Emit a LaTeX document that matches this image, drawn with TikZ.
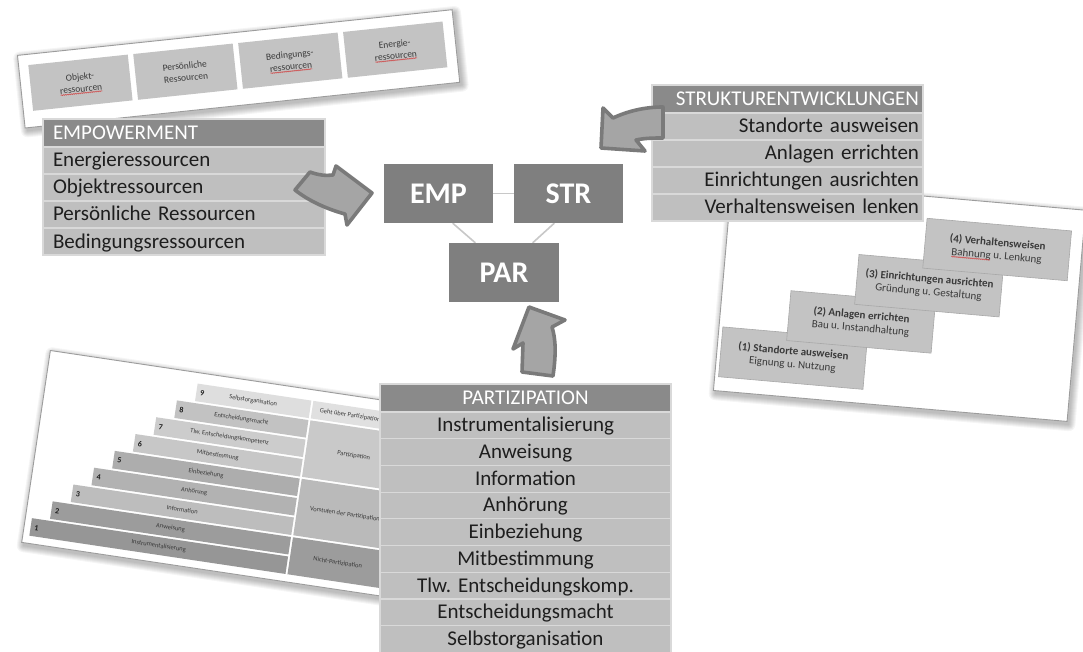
\documentclass[tikz,border=0pt]{standalone}
\usepackage{fontspec}
\setmainfont{Carlito}
\usetikzlibrary{calc,decorations.pathmorphing}

\definecolor{hdrgray}{HTML}{8A8A8A}
\definecolor{rowgray}{HTML}{BFBFBF}
\definecolor{rowline}{HTML}{D9D9D9}
\definecolor{corebox}{HTML}{7F7F7F}
\definecolor{corelink}{HTML}{C8C8C8}
\definecolor{tabtext}{HTML}{1E1E1E}
\definecolor{arrfill}{HTML}{A5A5A5}
\definecolor{arrline}{HTML}{7A7A7A}
\definecolor{cardline}{HTML}{9C9C9C}
\definecolor{tilefill}{HTML}{C3C3C3}
\definecolor{tileline}{HTML}{A8A8A8}
\definecolor{tiletext}{HTML}{3A3A3A}
\definecolor{spellred}{HTML}{D04848}

\newcommand\tabfont{\fontsize{21}{25}\selectfont}
\frenchspacing

% soft drop shadow under a card, given its local corners
\newcommand\cardshadow[4]{%
  \foreach \g in {0.5,1.5,...,6.5}
    \fill[black, opacity=0.04, rounded corners=\g pt]
      (#1+2.5-\g, #2+3.5-\g) rectangle (#3+2.5+\g, #4+3.5+\g);
}

\pgfdeclarelayer{bg}
\pgfsetlayers{bg,main}

\tikzset{
  card/.style={fill=white, draw=cardline, line width=0.9pt, inner sep=0pt, anchor=north west},
  tabrow/.style={fill=rowgray, draw=rowline, line width=1.2pt, text=tabtext, outer sep=0pt,
    font=\tabfont, inner ysep=0pt, minimum height=27pt, text height=16pt, text depth=3pt},
  tabhead/.style={tabrow, fill=hdrgray, text=white, minimum height=28pt},
  core/.style={fill=corebox, text=white, font=\fontsize{30}{34}\selectfont\bfseries,
    minimum width=109pt, minimum height=59pt, inner sep=0pt},
  link/.style={draw=corelink, line width=1.6pt},
  blockarrow/.style={fill=arrfill, draw=arrline, line width=3.6pt, line join=round},
  restile/.style={fill=tilefill, text=tiletext, font=\fontsize{9.5}{12}\selectfont,
    align=center, minimum width=100pt, minimum height=46pt, inner sep=0pt, anchor=north west},
  stagetile/.style={fill=tilefill, draw=tileline, line width=0.6pt, text=tiletext,
    font=\fontsize{11}{13}\selectfont, align=center, minimum width=145pt,
    minimum height=50pt, inner sep=0pt, anchor=north west},
  spell/.style={draw=spellred, line width=0.5pt, decorate,
    decoration={snake, amplitude=0.5pt, segment length=2pt}},
  steplbl/.style={font=\fontsize{6.5}{7}\selectfont, text=tiletext, inner sep=0pt},
  stepnum/.style={font=\fontsize{8}{9}\selectfont\bfseries, text=tabtext, inner sep=0pt},
}

\begin{document}
\begin{tikzpicture}[x=1pt,y=-1pt]
\begin{pgfonlayer}{bg}
  \fill[white] (0,0) rectangle (1083,652);
\end{pgfonlayer}
\useasboundingbox (0,0) rectangle (1083,652);

% ---------- resource card (top left) ----------
\begin{scope}[shift={(17,55)}, rotate=6, transform shape]
  \cardshadow{0}{0}{437}{73}
  \node[card, minimum width=437pt, minimum height=73pt] (rescard) at (0,0) {};
  \node[restile] (r1) at (10,11) {Objekt-\\ressourcen};
  \node[restile] (r2) at (115.5,11) {Persönliche\\Ressourcen};
  \node[restile] (r3) at (221,11) {Bedingungs-\\ressourcen};
  \node[restile] (r4) at (326.5,11) {Energie-\\ressourcen};
  \foreach \t in {r1,r3,r4}
    \draw[spell] (\t.center) ++(-21,10.5) -- ++(42,0);
\end{scope}

% ---------- stage card (right) ----------
\begin{scope}[shift={(731.5,178.8)}, rotate=-5, transform shape]
  \cardshadow{0}{0}{355}{212}
  \node[card, minimum width=355pt, minimum height=212pt] (stagecard) at (0,0) {};
  \node[stagetile] (s1) at (4,148) {\textbf{(1) Standorte ausweisen}\\Eignung u. Nutzung};
  \node[stagetile] (s2) at (68.7,106) {\textbf{(2) Anlagen errichten}\\Bau u. Instandhaltung};
  \node[stagetile] (s3) at (133.3,64) {\textbf{(3) Einrichtungen ausrichten}\\Gründung u. Gestaltung};
  \node[stagetile] (s4) at (198,22) {\textbf{(4) Verhaltensweisen}\\Bahnung u. Lenkung};
  \draw[spell] (s4.center) ++(-45,11) -- ++(39,0);
\end{scope}

% ---------- participation ladder card (bottom left) ----------
\begin{scope}[shift={(50,350)}, rotate=-8.5, transform shape]
  \cardshadow{0}{0}{370}{194}
  \node[card, minimum width=370pt, minimum height=194pt] (laddercard) at (0,0) {};
  \foreach \k/\lab/\shade in {1/Instrumentalisierung/41, 2/Anweisung/39, 3/Information/26,
      4/Anhörung/30, 5/Einbeziehung/32, 6/Mitbestimmung/22,
      7/Tlw. Entscheidungskompetenz/20, 8/Entscheidungsmacht/24, 9/Selbstorganisation/13} {
    \pgfmathsetmacro\bl{7+(\k-1)*18}
    \pgfmathsetmacro\bt{169-(\k-1)*19.7}
    \fill[black!\shade] (\bl,\bt) rectangle (266,\bt+17.7);
    \node[stepnum] (num\k) at (\bl+6,\bt+8.85) {\k};
    \node[steplbl] (lbl\k) at ({(\bl+266)/2},\bt+8.85) {\lab};
  }
  \fill[black!12] (268,11.4) rectangle (368,29.1);
  \fill[black!21] (268,31.1) rectangle (368,88.2);
  \fill[black!27] (268,90.2) rectangle (368,147.3);
  \fill[black!39] (268,149.3) rectangle (368,186.7);
  \node[steplbl] (grpD) at (316,20.25) {Geht über Partizipation hinaus};
  \node[steplbl] (grpC) at (316,59.65) {Partizipation};
  \node[steplbl] (grpB) at (316,118.75) {Vorstufen der Partizipation};
  \node[steplbl] (grpA) at (316,168) {Nicht-Partizipation};
\end{scope}

% ---------- EMPOWERMENT table ----------
\node[tabhead, anchor=north west, text width=262pt, inner xsep=10pt, align=left] (emp0) at (43,119) {EMPOWERMENT};
\foreach \t [count=\i, evaluate=\i as \j using int(\i-1)] in
    {Energieressourcen, Objektressourcen, Persönliche Ressourcen, Bedingungsressourcen}
  \node[tabrow, anchor=north, text width=262pt, inner xsep=10pt, align=left] (emp\i) at (emp\j.south) {\t};

% ---------- STRUKTURENTWICKLUNGEN table ----------
\node[tabhead, anchor=north east, text width=263pt, inner xsep=4pt, align=right] (str0) at (923,85) {STRUKTURENTWICKLUNGEN};
\foreach \t [count=\i, evaluate=\i as \j using int(\i-1)] in
    {Standorte ausweisen, Anlagen errichten, Einrichtungen ausrichten, Verhaltensweisen lenken}
  \node[tabrow, anchor=north, text width=263pt, inner xsep=4pt, align=right] (str\i) at (str\j.south) {\t};

% ---------- PARTIZIPATION table ----------
\node[tabhead, anchor=north west, text width=271pt, inner xsep=10pt, align=center] (par0) at (380,384) {PARTIZIPATION};
\foreach \t [count=\i, evaluate=\i as \j using int(\i-1)] in
    {Instrumentalisierung, Anweisung, Information, Anhörung, Einbeziehung, Mitbestimmung,
     Tlw. Entscheidungskomp., Entscheidungsmacht, Selbstorganisation}
  \node[tabrow, minimum height=26.7pt, anchor=north, text width=271pt, inner xsep=10pt, align=center] (par\i) at (par\j.south) {\t};

% ---------- curved block arrows ----------
\draw[blockarrow] (295,190) -- (310,172) .. controls (318,175) and (326,176) .. (333,175)
  -- (336,166) -- (372,193) -- (347,225) -- (345,214)
  .. controls (330,210) and (310,202) .. (295,190) -- cycle;
\draw[blockarrow] (663,107) .. controls (645,107) and (628,111) .. (613,118)
  -- (603,108) -- (601,148) -- (645,151) -- (636,140)
  .. controls (645,138) and (655,138) .. (663,138) -- cycle;
\draw[blockarrow] (522,372) -- (523,343) -- (513,349) -- (529,307) -- (565,320) -- (552,327)
  .. controls (556,340) and (556,355) .. (553,376) -- cycle;

% ---------- core triad ----------
\node[core] (emp) at (438.5,193.5) {EMP};
\node[core] (str) at (568.5,193.5) {STR};
\node[core, minimum width=110pt] (par) at (504,272.5) {PAR};
\begin{pgfonlayer}{bg}
  \draw[link] (emp) -- (str);
  \draw[link] ($(emp.south west)!.63!(emp.south east)$) -- ($(par.north west)!.24!(par.north east)$);
  \draw[link] ($(str.south west)!.37!(str.south east)$) -- ($(par.north west)!.76!(par.north east)$);
\end{pgfonlayer}
\end{tikzpicture}
\end{document}
